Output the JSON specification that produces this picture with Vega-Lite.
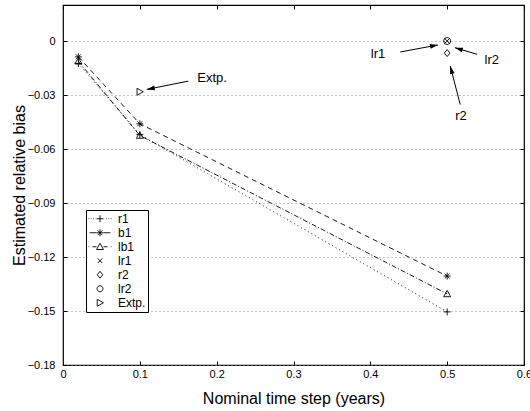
{
  "$schema": "https://vega.github.io/schema/vega-lite/v6.json",
  "width": 461,
  "height": 360,
  "autosize": "none",
  "padding": {"left": 63, "top": 5, "right": 6, "bottom": 46},
  "background": "white",
  "config": {
    "font": "Liberation Sans",
    "view": {"stroke": "black", "strokeWidth": 1.2},
    "axis": {
      "labelFont": "Liberation Sans",
      "titleFont": "Liberation Sans",
      "labelFontSize": 11,
      "titleFontSize": 16,
      "titleFontWeight": "normal",
      "labelColor": "black",
      "titleColor": "black",
      "tickColor": "black",
      "domain": false,
      "grid": false
    }
  },
  "datasets": {
    "pts": [
      {"series": "r1", "step": 0.02, "bias": -0.0125},
      {"series": "r1", "step": 0.1, "bias": -0.052},
      {"series": "r1", "step": 0.5, "bias": -0.1505},
      {"series": "b1", "step": 0.02, "bias": -0.0088},
      {"series": "b1", "step": 0.1, "bias": -0.046},
      {"series": "b1", "step": 0.5, "bias": -0.1306},
      {"series": "lb1", "step": 0.02, "bias": -0.0112},
      {"series": "lb1", "step": 0.1, "bias": -0.0525},
      {"series": "lb1", "step": 0.5, "bias": -0.1405},
      {"series": "lr1", "step": 0.5, "bias": 0},
      {"series": "r2", "step": 0.5, "bias": -0.0067},
      {"series": "lr2", "step": 0.5, "bias": 0},
      {"series": "Extp.", "step": 0.1, "bias": -0.0282}
    ],
    "notes": [
      {"label": "lr1", "tx": 0.41, "ty": -0.007, "x0": 0.439, "y0": -0.0061, "x1": 0.488, "y1": -0.0022},
      {"label": "lr2", "tx": 0.558, "ty": -0.0106, "x0": 0.539, "y0": -0.0074, "x1": 0.51, "y1": -0.0037},
      {"label": "r2", "tx": 0.518, "ty": -0.0418, "x0": 0.517, "y0": -0.0353, "x1": 0.504, "y1": -0.0139},
      {"label": "Extp.", "tx": 0.194, "ty": -0.0204, "x0": 0.163, "y0": -0.0223, "x1": 0.109, "y1": -0.0269}
    ]
  },
  "resolve": {
    "scale": {"shape": "independent"},
    "axis": {"x": "independent", "y": "independent"}
  },
  "layer": [
    {
      "data": {"name": "pts"},
      "transform": [{"filter": {"field": "series", "oneOf": ["r1", "b1", "lb1"]}}],
      "mark": {"type": "line", "color": "black", "strokeWidth": 0.9},
      "encoding": {
        "x": {
          "field": "step", "type": "quantitative",
          "scale": {"domain": [0, 0.6], "nice": false},
          "axis": {
            "orient": "bottom",
            "values": [0, 0.1, 0.2, 0.3, 0.4, 0.5, 0.6],
            "format": "~g",
            "tickSize": -4,
            "labelPadding": 7.5,
            "labelFlush": false,
            "title": "Nominal time step (years)",
            "titlePadding": 11
          }
        },
        "y": {
          "field": "bias", "type": "quantitative",
          "scale": {"domain": [-0.18, 0.02], "nice": false, "zero": false},
          "axis": {
            "orient": "left",
            "values": [-0.18, -0.15, -0.12, -0.09, -0.06, -0.03, 0],
            "format": "~g",
            "tickSize": -4,
            "labelPadding": 12,
            "labelFlush": false,
            "grid": true,
            "gridColor": "#8c8c8c",
            "gridDash": [1, 3],
            "gridWidth": 1,
            "title": "Estimated relative bias",
            "titlePadding": 0
          }
        },
        "detail": {"field": "series"},
        "strokeDash": {
          "field": "series",
          "scale": {"domain": ["r1", "b1", "lb1"], "range": [[1, 3], [5, 4], [5, 2, 1, 2]]},
          "legend": null
        }
      }
    },
    {
      "data": {"name": "pts"},
      "mark": {"type": "point", "filled": false, "color": "black", "strokeWidth": 0.9, "size": 49, "opacity": 1},
      "encoding": {
        "x": {"field": "step", "type": "quantitative", "axis": null},
        "y": {"field": "bias", "type": "quantitative", "axis": null},
        "shape": {
          "field": "series",
          "scale": {
            "domain": ["r1", "b1", "lb1", "lr1", "r2", "lr2", "Extp."],
            "range": [
              "M-1,0H1M0,-1V1",
              "M-1,0H1M0,-1V1M-0.7,-0.7L0.7,0.7M-0.7,0.7L0.7,-0.7",
              "M0,-1L1,0.8L-1,0.8Z",
              "M-0.7,-0.7L0.7,0.7M-0.7,0.7L0.7,-0.7",
              "M0,-1L0.8,0L0,1L-0.8,0Z",
              "circle",
              "M-0.8,-1L1,0L-0.8,1Z"
            ]
          },
          "legend": null
        }
      }
    },
    {
      "data": {"name": "pts"},
      "mark": {"type": "point", "filled": false, "color": "black", "strokeWidth": 0.9, "opacity": 0},
      "encoding": {
        "x": {"field": "step", "type": "quantitative", "axis": null},
        "y": {"field": "bias", "type": "quantitative", "axis": null},
        "shape": {
          "field": "series",
          "scale": {
            "domain": ["r1", "b1", "lb1", "lr1", "r2", "lr2", "Extp."],
            "range": [
              "M-1,0h0.06M-0.8,0h0.06M-0.6,0h0.06M0.54,0h0.06M0.74,0h0.06M0.94,0h0.06M-0.3,0H0.3M0,-0.3V0.3",
              "M-0.9,0H-0.3M0.3,0H0.9M-0.3,0H0.3M0,-0.3V0.3M-0.21,-0.21L0.21,0.21M-0.21,0.21L0.21,-0.21",
              "M-1,0h0.06M-0.65,0H-0.3M0.3,0H0.65M0.94,0h0.06M0,-0.3L0.3,0.24L-0.3,0.24Z",
              "M-0.2,-0.2L0.2,0.2M-0.2,0.2L0.2,-0.2",
              "M0,-0.3L0.24,0L0,0.3L-0.24,0Z",
              "M0.26,0A0.26,0.26,0,1,1,-0.26,0A0.26,0.26,0,1,1,0.26,0Z",
              "M-0.24,-0.3L0.3,0L-0.24,0.3Z"
            ]
          },
          "legend": {
            "orient": "none",
            "legendX": 23,
            "legendY": 205,
            "title": null,
            "symbolSize": 529,
            "clipHeight": 13.5,
            "rowPadding": 0,
            "padding": 2,
            "strokeColor": "black",
            "fillColor": "white",
            "cornerRadius": 0,
            "symbolStrokeColor": "black",
            "symbolStrokeWidth": 0.9,
            "symbolFillColor": "transparent",
            "labelFont": "Liberation Sans",
            "labelFontSize": 12,
            "labelColor": "black",
            "labelOffset": 6
          }
        }
      }
    },
    {
      "data": {"name": "notes"},
      "mark": {"type": "rule", "color": "black", "strokeWidth": 1},
      "encoding": {
        "x": {
          "field": "x0", "type": "quantitative",
          "axis": {"orient": "top", "values": [0, 0.1, 0.2, 0.3, 0.4, 0.5, 0.6], "labels": false, "tickSize": -4, "title": null, "grid": false}
        },
        "y": {
          "field": "y0", "type": "quantitative",
          "axis": {"orient": "right", "values": [-0.18, -0.15, -0.12, -0.09, -0.06, -0.03, 0], "labels": false, "tickSize": -4, "title": null, "grid": false}
        },
        "x2": {"field": "x1"},
        "y2": {"field": "y1"}
      }
    },
    {
      "data": {"name": "notes"},
      "transform": [{"filter": {"field": "label", "equal": "lr1"}}],
      "mark": {"type": "point", "shape": "M0,0L0.3,1L-0.3,1Z", "size": 256, "filled": true, "color": "black", "opacity": 1, "angle": 79.6},
      "encoding": {
        "x": {"field": "x1", "type": "quantitative", "axis": null},
        "y": {"field": "y1", "type": "quantitative", "axis": null}
      }
    },
    {
      "data": {"name": "notes"},
      "transform": [{"filter": {"field": "label", "equal": "lr2"}}],
      "mark": {"type": "point", "shape": "M0,0L0.3,1L-0.3,1Z", "size": 256, "filled": true, "color": "black", "opacity": 1, "angle": 287.2},
      "encoding": {
        "x": {"field": "x1", "type": "quantitative", "axis": null},
        "y": {"field": "y1", "type": "quantitative", "axis": null}
      }
    },
    {
      "data": {"name": "notes"},
      "transform": [{"filter": {"field": "label", "equal": "r2"}}],
      "mark": {"type": "point", "shape": "M0,0L0.3,1L-0.3,1Z", "size": 256, "filled": true, "color": "black", "opacity": 1, "angle": 345.4},
      "encoding": {
        "x": {"field": "x1", "type": "quantitative", "axis": null},
        "y": {"field": "y1", "type": "quantitative", "axis": null}
      }
    },
    {
      "data": {"name": "notes"},
      "transform": [{"filter": {"field": "label", "equal": "Extp."}}],
      "mark": {"type": "point", "shape": "M0,0L0.3,1L-0.3,1Z", "size": 256, "filled": true, "color": "black", "opacity": 1, "angle": 258.7},
      "encoding": {
        "x": {"field": "x1", "type": "quantitative", "axis": null},
        "y": {"field": "y1", "type": "quantitative", "axis": null}
      }
    },
    {
      "data": {"name": "notes"},
      "mark": {"type": "text", "font": "Liberation Sans", "fontSize": 13, "align": "center", "baseline": "middle", "color": "black"},
      "encoding": {
        "x": {"field": "tx", "type": "quantitative", "axis": null},
        "y": {"field": "ty", "type": "quantitative", "axis": null},
        "text": {"field": "label"}
      }
    }
  ]
}
